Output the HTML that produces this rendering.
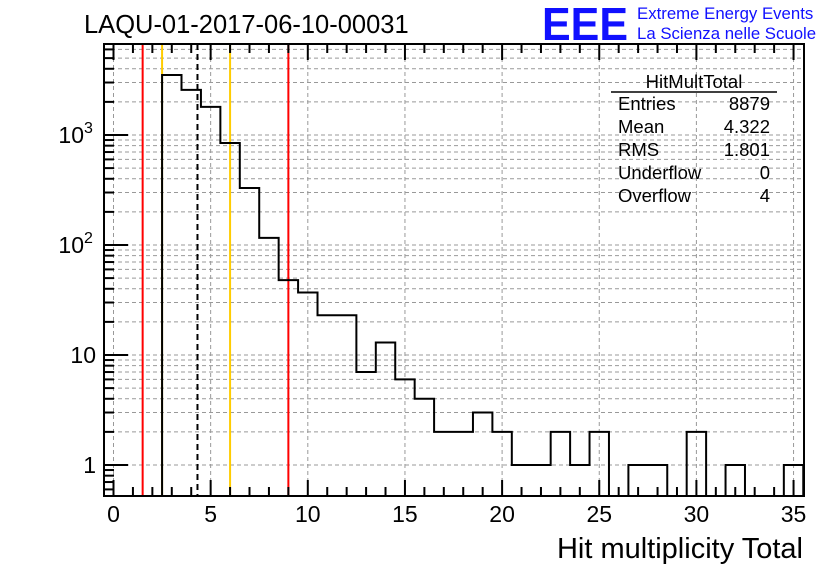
<!DOCTYPE html>
<html><head><meta charset="utf-8"><style>
body{margin:0;background:#fff;}
svg{display:block;font-family:"Liberation Sans",sans-serif;}
</style></head><body>
<svg id="c" width="836" height="572">
<rect width="836" height="572" fill="#fff"/>
<g id="grid"></g>
<g id="lines"></g>
<path id="hist" fill="none" stroke="#000" stroke-width="2"/>
<rect x="104" y="44" width="700" height="452" fill="none" stroke="#000" stroke-width="2"/>
<g id="axes"></g>
<text x="84" y="33" font-size="25.5">LAQU-01-2017-06-10-00031</text>
<text x="542" y="40" font-size="46" font-weight="bold" fill="#1010ff" textLength="86" lengthAdjust="spacingAndGlyphs">EEE</text>
<text x="637" y="19" font-size="16.8" fill="#1010ff">Extreme Energy Events</text>
<text x="637" y="39" font-size="16.8" fill="#1010ff">La Scienza nelle Scuole</text>
<g font-size="18.5">
<text x="694" y="88" text-anchor="middle">HitMultTotal</text>
<line x1="611" y1="92" x2="777" y2="92" stroke="#000" stroke-width="1.5"/>
<text x="618" y="110">Entries</text><text x="770" y="110" text-anchor="end">8879</text>
<text x="618" y="133">Mean</text><text x="770" y="133" text-anchor="end">4.322</text>
<text x="618" y="156">RMS</text><text x="770" y="156" text-anchor="end">1.801</text>
<text x="618" y="179">Underflow</text><text x="770" y="179" text-anchor="end">0</text>
<text x="618" y="202">Overflow</text><text x="770" y="202" text-anchor="end">4</text>
</g>
<text x="803" y="558" font-size="29" text-anchor="end">Hit multiplicity Total</text>
</svg>
<script>
const binCenters=[3,4,5,6,7,8,9,10,11,12,13,14,15,16,17,18,19,20,21,22,23,24,25,26,27,28,29,30,31,32,33,34,35];
const counts=[3510,2570,1800,845,330,116,48,37,23,23,7,13,6,4,2,2,3,2,1,1,2,1,2,0,1,1,0,2,0,1,0,0,1];
const xTicks=[0,5,10,15,20,25,30,35];
const yTicks=[1,10,100,1000];
const yTickLabels=["1","10","10","10"];
const yTickExp=["","","2","3"];
const markerValues=[1.5,2.5,4.322,6.0,9.0];
const markerColors=["#f00","#fc0","#000","#fc0","#f00"];
const NS="http://www.w3.org/2000/svg";
const X=v=>113.5+(v)*19.43;
const Y=v=>465-110*Math.log10(v);
const YB=496;
function mk(t,a,p){const e=document.createElementNS(NS,t);for(const k in a)e.setAttribute(k,a[k]);p.appendChild(e);return e;}
const grid=document.getElementById('grid'),axes=document.getElementById('axes'),lines=document.getElementById('lines');
for(const t of xTicks){const g=mk('line',{x1:X(t),x2:X(t),y1:44,y2:496,stroke:'#999','stroke-dasharray':'4,3'},grid);
}
for(let d=0;d<=3;d++)for(let m=1;m<=9;m++){const v=m*Math.pow(10,d);const y=Y(v);if(y<44||y>496)continue;
const g=mk('line',{x1:104,x2:804,y1:y,y2:y,stroke:'#999','stroke-dasharray':'4,3'},grid);

mk('line',{x1:104,x2:m==1?128:114,y1:y,y2:y,stroke:'#000','stroke-width':2},axes);}
for(const v of [0.6,0.7,0.8,0.9]){const y=Y(v);mk('line',{x1:104,x2:114,y1:y,y2:y,stroke:'#000','stroke-width':2},axes);}
for(let i=0;i<=35;i++){const L=i%5==0?16:9;mk('line',{x1:X(i),x2:X(i),y1:496,y2:496-L,stroke:'#000','stroke-width':2},axes);mk('line',{x1:X(i),x2:X(i),y1:44,y2:44+L,stroke:'#000','stroke-width':2},axes);}
xTicks.forEach(t=>{const e=mk('text',{x:X(t),y:522,'font-size':23,'text-anchor':'middle'},axes);e.textContent=t;
});
yTicks.forEach((t,i)=>{const e=mk('text',{x:yTickExp[i]?84:96,y:Y(t)+8,'font-size':23,'text-anchor':'end'},axes);e.textContent=yTickLabels[i];

if(yTickExp[i]){const s=mk('text',{x:84,y:Y(t)-2,'font-size':16},axes);s.textContent=yTickExp[i];}});
markerValues.forEach((v,i)=>{const a={x1:X(v),x2:X(v),y1:44,y2:496,stroke:markerColors[i],'stroke-width':2};if(markerColors[i]=='#000')a['stroke-dasharray']='6,4';
const e=mk('line',a,lines);});
let d='';let prevOn=false;
binCenters.forEach((c,i)=>{const v=counts[i];const x0=X(c-0.5),x1=X(c+0.5);
if(v>0){const y=Y(v);if(!prevOn)d+='M'+x0+','+YB;d+='L'+x0+','+y+'L'+x1+','+y;prevOn=true;
if(i==counts.length-1||counts[i+1]==0)d+='L'+x1+','+YB;}else prevOn=false;});
document.getElementById('hist').setAttribute('d',d);
</script>
</body></html>
